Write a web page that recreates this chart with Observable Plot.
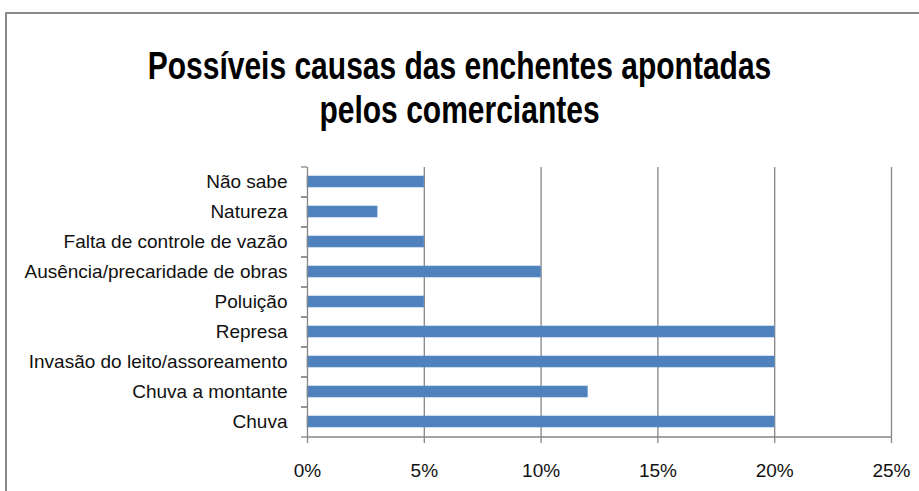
<!DOCTYPE html>
<html>
<head>
<meta charset="utf-8">
<script src="https://cdn.jsdelivr.net/npm/d3@7"></script>
<script src="https://cdn.jsdelivr.net/npm/@observablehq/plot@0.6"></script>
<style>
  html, body { margin: 0; padding: 0; background: #fff; overflow: hidden; }
  #wrap { position: relative; width: 919px; height: 491px; overflow: hidden; }
  #frame { position: absolute; left: 5px; top: 12px; width: 1000px; height: 600px; border: 2px solid #8a8a8a; box-sizing: border-box; }
  .tline { position: absolute; left: 0; width: 919px; text-align: center;
           font-family: "Liberation Sans", Arial, sans-serif; font-weight: bold; font-size: 30px; line-height: 30px; color: #000;
           transform: scaleY(1.3); transform-origin: 50% 25.4px; white-space: nowrap; }
  #chart { position: absolute; left: 0; top: 0; }
</style>
</head>
<body>
<div id="wrap">
  <div id="frame"></div>
  <div class="tline" style="top:53.5px">Possíveis causas das enchentes apontadas</div>
  <div class="tline" style="top:97.5px">pelos comerciantes</div>
  <div id="chart"></div>
</div>
<script>
const categories = [
  "Não sabe",
  "Natureza",
  "Falta de controle de vazão",
  "Ausência/precaridade de obras",
  "Poluição",
  "Represa",
  "Invasão do leito/assoreamento",
  "Chuva a montante",
  "Chuva"
];
const values = [5, 3, 5, 10, 5, 20, 20, 12, 20];
const xTicks = [0, 5, 10, 15, 20, 25];
const gridTicks = [5, 10, 15, 20, 25];

const data = categories.map((c, i) => ({cause: c, value: values[i]}));
const gray = "#868686";
const font = "Liberation Sans, Arial, sans-serif";

const chart = Plot.plot({
  width: 919,
  height: 491,
  marginTop: 167,
  marginBottom: 54,
  marginLeft: 307,
  marginRight: 28,
  style: {fontFamily: font, fontSize: "19px", color: "#000", background: "transparent", overflow: "visible"},
  x: {domain: [0, 25], ticks: xTicks, tickFormat: d => d + "%"},
  y: {domain: categories, paddingInner: 0.63, paddingOuter: 0.315},
  marks: [
    Plot.ruleX(gridTicks, {stroke: gray, strokeWidth: 1.3, strokeOpacity: 1}),
    Plot.barX(data, {x: "value", y: "cause", fill: "#4F81BD", stroke: "#5b8cc6", strokeWidth: 0.6}),
    Plot.ruleX([0], {stroke: gray, strokeWidth: 1.3}),
    Plot.ruleY([categories[categories.length - 1]], {dy: 15, stroke: gray, strokeWidth: 1.3}),
    Plot.axisY({tickSize: 6, dy: -15, tickFormat: null, stroke: gray, strokeWidth: 1.3, label: null}),
    Plot.axisY({tickSize: 6, dy: 15, tickFormat: null, stroke: gray, strokeWidth: 1.3, label: null}),
    Plot.axisY({tickSize: 0, tickPadding: 20, label: null, fontSize: 19, fill: "#111"}),
    Plot.axisX({ticks: xTicks, tickSize: 6, tickPadding: 20, stroke: gray, strokeWidth: 1.3, tickFormat: d => d + "%", label: null, fontSize: 19, fill: "#111"})
  ]
});
document.getElementById("chart").appendChild(chart);
</script>
</body>
</html>
